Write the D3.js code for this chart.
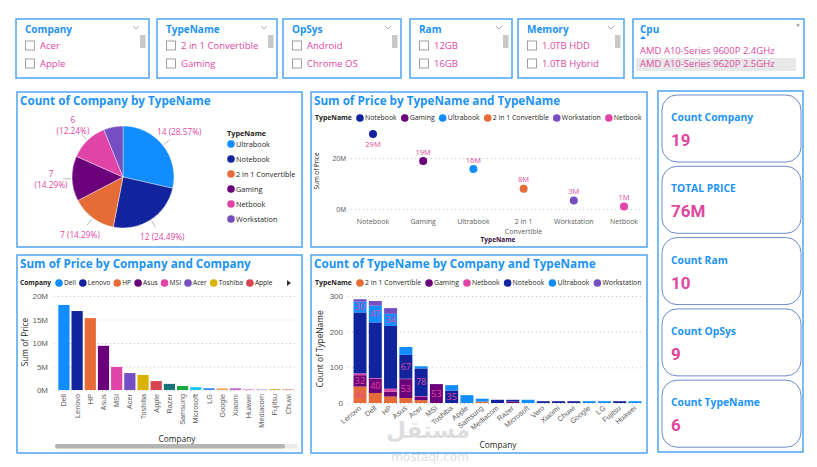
<!DOCTYPE html>
<html>
<head>
<meta charset="utf-8">
<script src="https://cdn.jsdelivr.net/npm/d3@7"></script>
<style>
  body { margin: 0; background: #fff; }
  svg { display: block; }
</style>
</head>
<body>
<script>
// ---- data ----
const slicerTitles = ["Company", "TypeName", "OpSys", "Ram", "Memory"];
const slicerItems = [["Acer", "Apple"], ["2 in 1 Convertible", "Gaming"], ["Android", "Chrome OS"], ["12GB", "16GB"], ["1.0TB HDD", "1.0TB Hybrid"]];
const cpuTitle = "Cpu";
const cpuItems = ["AMD A10-Series 9600P 2.4GHz", "AMD A10-Series 9620P 2.5GHz"];

const typeNames = ["Ultrabook", "Notebook", "2 in 1 Convertible", "Gaming", "Netbook", "Workstation"];
const typeColors = ["#118DFF", "#12239E", "#E66C37", "#6B007B", "#E044A7", "#744EC2"];
const typeCounts = [14, 12, 7, 7, 6, 3];

const priceTypes = ["Notebook", "Gaming", "Ultrabook", "2 in 1 Convertible", "Workstation", "Netbook"];
const priceByType = [29.4, 18.8, 15.7, 7.9, 3.3, 1.0]; // millions
const priceTypeTicks = [0, 20];

const companies = ["Dell", "Lenovo", "HP", "Asus", "MSI", "Acer", "Toshiba", "Apple", "Razer", "Samsung", "Microsoft", "LG", "Google", "Xiaomi", "Huawei", "Mediacom", "Fujitsu", "Chuwi"];
const companyColors = ["#118DFF", "#12239E", "#E66C37", "#6B007B", "#E044A7", "#744EC2", "#D9B300", "#D64550", "#197278", "#1AAB40", "#15C6F4", "#4092FF", "#FFA058", "#BE5DC9", "#F472D0", "#B5A1FF", "#C4A200", "#FF8080"];
const priceByCompany = [18.1, 16.8, 15.3, 9.4, 4.9, 3.6, 3.2, 1.9, 1.3, 0.85, 0.6, 0.4, 0.35, 0.35, 0.15, 0.15, 0.15, 0.15]; // millions
const priceCompanyTicks = [0, 5, 10, 15, 20];

const stackCompanies = ["Lenovo", "Dell", "HP", "Asus", "Acer", "MSI", "Toshiba", "Apple", "Samsung", "Mediacom", "Razer", "Microsoft", "Vero", "Xiaomi", "Chuwi", "Google", "LG", "Fujitsu", "Huawei"];
const stackTypes = ["2 in 1 Convertible", "Gaming", "Netbook", "Notebook", "Ultrabook", "Workstation"];
const countConvertible = [46, 28, 18, 14, 8, 0, 0, 0, 4, 0, 0, 0, 0, 0, 0, 0, 0, 0, 0];
const countGaming      = [32, 40, 14, 53, 9, 53, 0, 0, 0, 0, 4, 0, 0, 0, 0, 0, 0, 0, 0];
const countNetbook     = [5, 2, 8, 1, 2, 0, 0, 0, 0, 0, 0, 0, 0, 0, 0, 0, 0, 0, 0];
const countNotebook    = [171, 156, 176, 67, 78, 0, 35, 0, 0, 9, 5, 0, 5, 5, 5, 0, 0, 5, 0];
const countUltrabook   = [30, 47, 34, 22, 6, 0, 15, 22, 8, 0, 0, 9, 0, 0, 0, 5, 5, 0, 5];
const countWorkstation = [7, 13, 16, 0, 0, 0, 0, 0, 0, 0, 0, 0, 0, 0, 0, 0, 0, 0, 0];
const countTicks = [0, 100, 200, 300];

const kpiLabels = ["Count Company", "TOTAL PRICE", "Count Ram", "Count OpSys", "Count TypeName"];
const kpiValues = ["19", "76M", "10", "9", "6"];

// ---- styles ----
const BLUE = "#2193F3", PINK = "#E0489F", BORDER = "#4EA5F2", GRID = "#c8c8c8", AXIS = "#605E5C", DARK = "#252423";
const FONT = "'Open Sans', 'Segoe UI', sans-serif";

const typeColor = d3.scaleOrdinal(typeNames, typeColors);
const companyColor = d3.scaleOrdinal(companies, companyColors);

const svg = d3.select("body").append("svg")
  .attr("width", 817).attr("height", 467)
  .style("font-family", FONT);
svg.append("rect").attr("width", 817).attr("height", 467).attr("fill", "#fff");

function panel(x, y, w, h) {
  svg.append("rect").attr("x", x).attr("y", y).attr("width", w).attr("height", h)
    .attr("fill", "#fff").attr("stroke", BORDER).attr("stroke-width", 1.5);
}
function title(x, y, txt, size) {
  return svg.append("text").attr("x", x).attr("y", y).text(txt)
    .attr("fill", BLUE).attr("font-weight", 700).attr("font-size", size);
}
// horizontal legend, laid out by measured text widths
function legend(x, y, head, items, colorOf, size = 6.9, gap = 4) {
  const g = svg.append("g").attr("transform", `translate(${x},${y})`).attr("font-size", size);
  const t = g.append("text").text(head).attr("dy", "0.35em").attr("font-weight", 700).attr("fill", DARK);
  let cx = t.node().getComputedTextLength() + 4;
  items.forEach(d => {
    g.append("circle").attr("cx", cx + 4).attr("r", 3.8).attr("fill", colorOf(d));
    const tt = g.append("text").attr("x", cx + 9).attr("dy", "0.35em").text(d).attr("fill", DARK);
    cx += 9 + tt.node().getComputedTextLength() + gap;
  });
  return g;
}
function styleGrid(g) {
  g.select(".domain").remove();
  g.selectAll(".tick line").attr("stroke", GRID).attr("stroke-dasharray", "1,3");
  g.selectAll(".tick text").attr("fill", AXIS);
}

// ---- slicers ----
const slicerX = [16, 157, 283, 410, 518], slicerW = [133, 120, 118, 102, 106];
slicerTitles.forEach((t, i) => {
  const x = slicerX[i], w = slicerW[i];
  panel(x, 19, w, 59);
  title(x + 9, 33, t, 10);
  svg.append("path").attr("d", `M${x + w - 16},26 l3,3 l3,-3`)
    .attr("fill", "none").attr("stroke", "#999").attr("stroke-width", 0.8);
  svg.append("rect").attr("x", x + w - 9).attr("y", 35).attr("width", 5.5).attr("height", 13).attr("fill", "#c8c8c8");
  slicerItems[i].forEach((s, j) => {
    svg.append("rect").attr("x", x + 9.5).attr("y", 41 + 18 * j).attr("width", 9).attr("height", 9)
      .attr("fill", "#fff").attr("stroke", "#8a8a8a").attr("stroke-width", 0.8);
    svg.append("text").attr("x", x + 24).attr("y", 49 + 18 * j).text(s)
      .attr("fill", PINK).attr("font-size", 9.5);
  });
});
panel(633, 19, 171, 59);
title(640, 33, cpuTitle, 10);
svg.append("path").attr("d", "M640,39 l3,-3 l3,3 Z").attr("fill", BLUE);
svg.append("circle").attr("cx", 798).attr("cy", 25).attr("r", 1.5).attr("fill", "#aaa");
svg.append("rect").attr("x", 636).attr("y", 58).attr("width", 160).attr("height", 13).attr("fill", "#e8e8e8");
cpuItems.forEach((s, j) => {
  svg.append("text").attr("x", 640).attr("y", 54 + 13 * j).text(s).attr("fill", PINK).attr("font-size", 9.5);
});

// ---- pie: Count of Company by TypeName ----
panel(17, 92, 285, 155);
title(20, 105, "Count of Company by TypeName", 11.7);
const pieR = 51;
const total = d3.sum(typeCounts);
const arcs = d3.pie().sort(null).value(d => d.v)(typeNames.map((n, i) => ({ n, v: typeCounts[i] })));
const arcGen = d3.arc().innerRadius(0).outerRadius(pieR);
const gp = svg.append("g").attr("transform", "translate(123,177)");
gp.selectAll("path").data(arcs).join("path")
  .attr("d", arcGen).attr("fill", d => typeColor(d.data.n))
  .attr("stroke", "#fff").attr("stroke-width", 0.4);
arcs.filter(d => d.data.v / total > 0.1).forEach(d => {
  const a = (d.startAngle + d.endAngle) / 2;
  const s = Math.sin(a), c = -Math.cos(a);
  gp.append("line")
    .attr("x1", s * (pieR + 1)).attr("y1", c * (pieR + 1))
    .attr("x2", s * (pieR + 9)).attr("y2", c * (pieR + 9))
    .attr("stroke", "#aaa").attr("stroke-width", 0.8);
  const pct = d3.format(".2%")(d.data.v / total);
  const lx = s * 72, ly = c * 72;
  const wrap = s < 0 && Math.abs(c) < 0.75;
  const lines = wrap ? [String(d.data.v), `(${pct})`] : [`${d.data.v} (${pct})`];
  const t = gp.append("text").attr("text-anchor", "middle").attr("font-size", 8.3).attr("fill", PINK);
  lines.forEach((l, k) => {
    t.append("tspan").attr("x", lx).attr("y", ly + (k - (lines.length - 1) / 2) * 11).attr("dy", "0.35em").text(l);
  });
});
const pl = svg.append("g").attr("transform", "translate(227,133)").attr("font-size", 7.3);
pl.append("text").text("TypeName").attr("dy", "0.35em").attr("font-weight", 700).attr("fill", DARK);
typeNames.forEach((n, i) => {
  pl.append("circle").attr("cx", 4).attr("cy", 11 + 15 * i).attr("r", 3.8).attr("fill", typeColor(n));
  pl.append("text").attr("x", 9).attr("y", 11 + 15 * i).attr("dy", "0.35em").text(n).attr("fill", DARK);
});

// ---- scatter: Sum of Price by TypeName ----
panel(311, 92, 336, 155);
title(314, 105, "Sum of Price by TypeName and TypeName", 11.7);
legend(315, 118, "TypeName", priceTypes, typeColor);
const sx = d3.scalePoint().domain(priceTypes).range([373, 624]);
const sy = d3.scaleLinear().domain([0, 30]).range([209, 132.5]);
const sAxis = svg.append("g").attr("transform", "translate(351,0)")
  .call(d3.axisLeft(sy).tickValues(priceTypeTicks).tickSize(-290).tickPadding(5).tickFormat(d => d + "M"));
styleGrid(sAxis);
sAxis.selectAll(".tick text").attr("font-size", 7);
priceTypes.forEach((t, i) => {
  const px = sx(t), py = sy(priceByType[i]);
  svg.append("circle").attr("cx", px).attr("cy", py).attr("r", 4).attr("fill", typeColor(t));
  const above = py - 12 > 128;
  svg.append("text").attr("x", px).attr("y", above ? py - 9 : py + 10).attr("dy", "0.35em")
    .attr("text-anchor", "middle").attr("font-size", 7.5).attr("fill", PINK)
    .text(Math.round(priceByType[i]) + "M");
  // category label, wrapped to the band
  const lab = svg.append("text").attr("text-anchor", "middle").attr("font-size", 7).attr("fill", AXIS);
  const words = t.split(" ");
  let line = [], row = 0;
  let span = lab.append("tspan").attr("x", px).attr("y", 224);
  words.forEach(w => {
    line.push(w);
    span.text(line.join(" "));
    if (span.node().getComputedTextLength() > 46 && line.length > 1) {
      line.pop();
      span.text(line.join(" "));
      line = [w];
      row++;
      span = lab.append("tspan").attr("x", px).attr("y", 224 + row * 10).text(w);
    }
  });
});
svg.append("text").attr("x", 498).attr("y", 242).attr("text-anchor", "middle")
  .attr("font-size", 6.5).attr("font-weight", 700).attr("fill", "#3a1046").text("TypeName");
svg.append("text").attr("transform", "translate(319,171) rotate(-90)").attr("text-anchor", "middle")
  .attr("font-size", 6.3).attr("fill", DARK).text("Sum of Price");

// ---- bars: Sum of Price by Company ----
panel(17, 255, 285, 198);
title(20, 268, "Sum of Price by Company and Company", 11.7);
legend(20, 283, "Company", companies.slice(0, 8), companyColor, 6.6, 3);
svg.append("path").attr("d", "M287,280 L291,283 L287,286 Z").attr("fill", "#333");
const bx = d3.scaleBand().domain(companies).range([57, 295]).paddingInner(0.15).paddingOuter(0.1);
const by = d3.scaleLinear().domain([0, 20]).range([390, 296]);
const bAxis = svg.append("g").attr("transform", "translate(54,0)")
  .call(d3.axisLeft(by).tickValues(priceCompanyTicks).tickSize(-243).tickPadding(6).tickFormat(d => d + "M"));
styleGrid(bAxis);
bAxis.selectAll(".tick text").attr("font-size", 8);
svg.append("g").selectAll("rect").data(companies).join("rect")
  .attr("x", d => bx(d)).attr("width", bx.bandwidth())
  .attr("y", (d, i) => by(priceByCompany[i]))
  .attr("height", (d, i) => by(0) - by(priceByCompany[i]))
  .attr("fill", d => companyColor(d));
const bxAxis = svg.append("g").attr("transform", "translate(0,390)")
  .call(d3.axisBottom(bx).tickSize(0));
bxAxis.select(".domain").remove();
bxAxis.selectAll(".tick text")
  .attr("transform", "rotate(-90)").attr("text-anchor", "end")
  .attr("x", -4).attr("y", 0).attr("dy", "0.35em")
  .attr("font-size", 7.3).attr("fill", AXIS);
svg.append("text").attr("x", 177).attr("y", 442).attr("text-anchor", "middle")
  .attr("font-size", 8.3).attr("fill", DARK).text("Company");
svg.append("text").attr("transform", "translate(28,342) rotate(-90)").attr("text-anchor", "middle")
  .attr("font-size", 8.3).attr("fill", DARK).text("Sum of Price");
svg.append("rect").attr("x", 55).attr("y", 444).attr("width", 243).attr("height", 4.5).attr("rx", 2.2).attr("fill", "#ececec");
svg.append("rect").attr("x", 55).attr("y", 444).attr("width", 230).attr("height", 4.5).attr("rx", 2.2).attr("fill", "#b5b5b5");

// ---- stacked bars: Count of TypeName by Company ----
panel(311, 255, 336, 198);
title(314, 268, "Count of TypeName by Company and TypeName", 11.7);
legend(315, 283, "TypeName", stackTypes, typeColor);
const stackCols = [countConvertible, countGaming, countNetbook, countNotebook, countUltrabook, countWorkstation];
const table = stackCompanies.map((c, i) => {
  const row = { company: c };
  stackTypes.forEach((t, k) => { row[t] = stackCols[k][i]; });
  return row;
});
const series = d3.stack().keys(stackTypes)(table);
const cx = d3.scaleBand().domain(stackCompanies).range([352, 643]).paddingInner(0.15).paddingOuter(0.1);
const cy = d3.scaleLinear().domain([0, 300]).range([403, 296]);
const cAxis = svg.append("g").attr("transform", "translate(348,0)")
  .call(d3.axisLeft(cy).tickValues(countTicks).tickSize(-293).tickPadding(5));
styleGrid(cAxis);
cAxis.selectAll(".tick text").attr("font-size", 8);
svg.append("g").selectAll("g").data(series).join("g")
  .attr("fill", s => typeColor(s.key))
  .selectAll("rect").data(s => s).join("rect")
  .attr("x", d => cx(d.data.company)).attr("width", cx.bandwidth())
  .attr("y", d => cy(d[1])).attr("height", d => cy(d[0]) - cy(d[1]));
series.forEach(s => {
  s.forEach(d => {
    const v = d[1] - d[0];
    if (v >= 30 && v < 100) {
      svg.append("text").attr("x", cx(d.data.company) + cx.bandwidth() / 2).attr("y", cy((d[0] + d[1]) / 2))
        .attr("dy", "0.35em").attr("text-anchor", "middle").attr("font-size", 9).attr("fill", PINK).text(v);
    }
  });
});
const cxAxis = svg.append("g").attr("transform", "translate(0,407)")
  .call(d3.axisBottom(cx).tickSize(0));
cxAxis.select(".domain").remove();
cxAxis.selectAll(".tick text")
  .attr("transform", "rotate(-40)").attr("text-anchor", "end")
  .attr("x", 0).attr("y", 0).attr("dy", "0.35em")
  .attr("font-size", 7.3).attr("fill", AXIS);
svg.append("text").attr("x", 498).attr("y", 448).attr("text-anchor", "middle")
  .attr("font-size", 8.3).attr("fill", DARK).text("Company");
svg.append("text").attr("transform", "translate(323,349) rotate(-90)").attr("text-anchor", "middle")
  .attr("font-size", 8.3).attr("fill", DARK).text("Count of TypeName");

// ---- KPI cards ----
panel(658, 91, 145, 361);
kpiLabels.forEach((k, i) => {
  const top = 95 + i * 71.3;
  svg.append("rect").attr("x", 662).attr("y", top).attr("width", 139).attr("height", 67).attr("rx", 15)
    .attr("fill", "#fff").attr("stroke", "#6D8BC9").attr("stroke-width", 1);
  svg.append("text").attr("x", 671).attr("y", top + 26).text(k)
    .attr("font-size", 10.3).attr("font-weight", 700).attr("fill", BLUE);
  svg.append("text").attr("x", 671).attr("y", top + 51).text(kpiValues[i])
    .attr("font-family", "Roboto, sans-serif").attr("font-size", 17).attr("font-weight", 700).attr("fill", PINK);
});

// ---- watermark ----
const wm = svg.append("g").attr("opacity", 0.28).attr("fill", "#8c8c8c").attr("text-anchor", "middle");
wm.append("text").attr("x", 428).attr("y", 438).attr("font-family", "'DejaVu Sans', sans-serif")
  .attr("font-size", 23).attr("font-weight", 700).text("مستقل");
wm.append("text").attr("x", 430).attr("y", 461).attr("font-family", "'DejaVu Sans', sans-serif")
  .attr("font-size", 12).text("mostaql.com");
</script>
</body>
</html>
